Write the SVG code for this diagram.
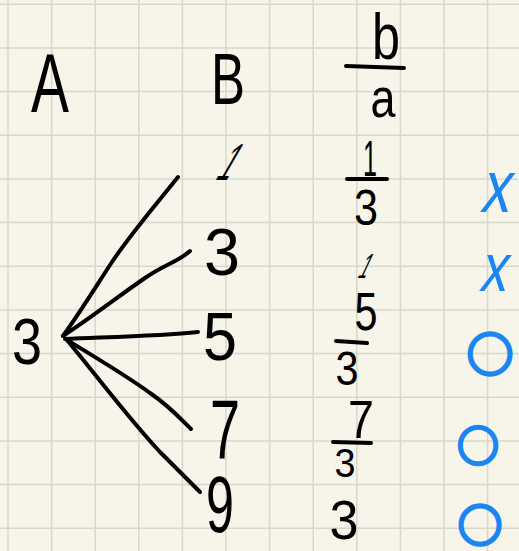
<svg xmlns="http://www.w3.org/2000/svg" width="519" height="551" viewBox="0 0 519 551">
<style>
.ink{font-family:"Liberation Sans","DejaVu Sans",sans-serif;fill:#000;text-anchor:middle}
.blue{font-family:"Liberation Sans","DejaVu Sans",sans-serif;fill:#1a86f2;text-anchor:middle}
.circ{font-family:"Noto Sans CJK JP","DejaVu Sans",sans-serif;fill:#1a86f2;stroke:#1a86f2;stroke-width:3.5;text-anchor:middle}
.bar{stroke:#000;stroke-width:4;stroke-linecap:round;fill:none}
.edge{stroke:#000;stroke-width:4;stroke-linecap:round;fill:none}
.grid{stroke:#d8d7ca;stroke-width:1.5;fill:none}
</style>
<rect width="519" height="551" fill="#f7f5ea"/>
<path class="grid" d="M8,0V551M51.6,0V551M95.2,0V551M138.8,0V551M182.4,0V551M226,0V551M269.6,0V551M313.2,0V551M356.8,0V551M400.4,0V551M444,0V551M487.6,0V551M0,4.3H519M0,48H519M0,91.6H519M0,135.3H519M0,179H519M0,222.6H519M0,266.3H519M0,310H519M0,353.6H519M0,397.3H519M0,441H519M0,484.6H519M0,528.3H519"/>

<g id="headers">
<text class="ink" x="50" y="112" font-size="84" textLength="38" lengthAdjust="spacingAndGlyphs">A</text>
<text class="ink" x="228" y="104" font-size="73" textLength="34" lengthAdjust="spacingAndGlyphs">B</text>
<g id="ratio-header">
<text class="ink" x="386" y="59" font-size="64" textLength="28" lengthAdjust="spacingAndGlyphs">b</text>
<path class="bar" d="M346,66 L404,68"/>
<text class="ink" x="383" y="117" font-size="56" textLength="25" lengthAdjust="spacingAndGlyphs">a</text>
</g>
</g>

<g id="node-a3"><text class="ink" x="27" y="364" font-size="64" textLength="30" lengthAdjust="spacingAndGlyphs">3</text></g>

<g id="node-b1"><text class="ink" font-size="52" textLength="14" lengthAdjust="spacingAndGlyphs" transform="translate(221,180) skewX(-30)" x="0" y="0">1</text></g>
<g id="node-b3"><text class="ink" x="222" y="275" font-size="66" textLength="36" lengthAdjust="spacingAndGlyphs">3</text></g>
<g id="node-b5"><text class="ink" x="220" y="360" font-size="68" textLength="34" lengthAdjust="spacingAndGlyphs">5</text></g>
<g id="node-b7"><text class="ink" x="225" y="458" font-size="84" textLength="30" lengthAdjust="spacingAndGlyphs">7</text></g>
<g id="node-b9"><text class="ink" x="220" y="532" font-size="80" textLength="28" lengthAdjust="spacingAndGlyphs">9</text></g>

<g id="connectors">
<path class="edge" d="M63,336 C85,305 100,280 112,262 C130,235 150,212 178,177"/>
<path class="edge" d="M63,336 C95,315 120,295 145,278 C165,264 178,262 190,251"/>
<path class="edge" d="M65,339 C110,337 160,336 198,332"/>
<path class="edge" d="M67,340 C100,360 130,378 150,393 C168,405 180,418 191,429"/>
<path class="edge" d="M67,340 C100,380 130,420 160,452 C178,470 190,482 200,492"/>
</g>

<g id="ratio-1-3">
<text class="ink" x="370" y="176" font-size="50" textLength="14" lengthAdjust="spacingAndGlyphs">1</text>
<path class="bar" d="M347,179 L387,179"/>
<text class="ink" x="366" y="225" font-size="50" textLength="24" lengthAdjust="spacingAndGlyphs">3</text>
</g>
<g id="ratio-1"><text class="ink" font-size="35" textLength="9" lengthAdjust="spacingAndGlyphs" transform="translate(361,278) skewX(-25)" x="0" y="0">1</text></g>
<g id="ratio-5-3">
<text class="ink" x="366" y="330" font-size="53" textLength="23" lengthAdjust="spacingAndGlyphs">5</text>
<path class="bar" d="M336,341 L367,343"/>
<text class="ink" x="347" y="385" font-size="49" textLength="23" lengthAdjust="spacingAndGlyphs">3</text>
</g>
<g id="ratio-7-3">
<text class="ink" x="361" y="438" font-size="54" textLength="26" lengthAdjust="spacingAndGlyphs">7</text>
<path class="bar" d="M333,442 L371,443"/>
<text class="ink" x="345" y="477" font-size="40" textLength="21" lengthAdjust="spacingAndGlyphs">3</text>
</g>
<g id="ratio-3"><text class="ink" x="344" y="539" font-size="56" textLength="29" lengthAdjust="spacingAndGlyphs">3</text></g>

<g id="marks">
<text class="blue" font-size="74" textLength="29" lengthAdjust="spacingAndGlyphs" transform="translate(494,212) skewX(-12)" x="0" y="0">x</text>
<text class="blue" font-size="68" textLength="27" lengthAdjust="spacingAndGlyphs" transform="translate(492,291) skewX(-12)" x="0" y="0">x</text>
<text class="circ" x="490" y="371" font-size="46">○</text>
<text class="circ" x="478" y="461" font-size="41">○</text>
<text class="circ" x="480" y="542" font-size="44">○</text>
</g>
</svg>
